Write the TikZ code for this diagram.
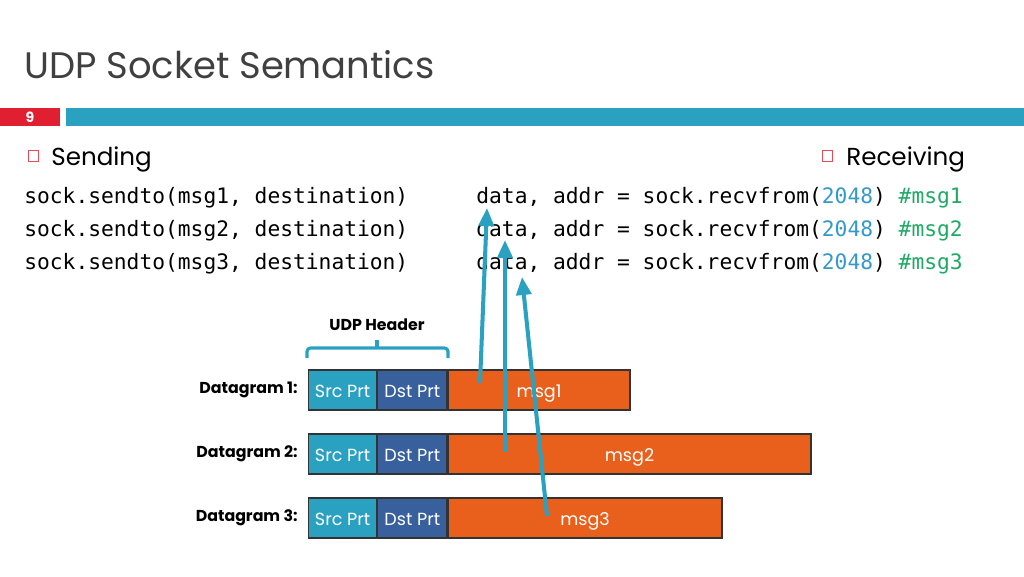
\documentclass[tikz,border=0pt]{standalone}
\usepackage{fontspec}
\setmainfont{Poppins}
\setmonofont{DejaVu Sans Mono}
\usepackage{xcolor}
\usetikzlibrary{positioning, arrows.meta}

\definecolor{slideteal}{HTML}{2BA1C2}
\definecolor{slidered}{HTML}{E02030}
\definecolor{portblue}{HTML}{38609C}
\definecolor{payorange}{HTML}{E8601C}
\definecolor{numblue}{HTML}{3399C8}
\definecolor{commentgreen}{HTML}{1EAA64}
\definecolor{titlegray}{HTML}{404040}

\newcommand{\recvline}[1]{data, addr = sock.recvfrom(\textcolor{numblue}{2048}) \textcolor{commentgreen}{\#msg#1}}

\begin{document}
\begin{tikzpicture}[x=0.02cm, y=-0.02cm,
    codeline/.style={anchor=base west, inner sep=0pt, font=\ttfamily\fontsize{12.1}{14}\selectfont},
    bullettext/.style={anchor=base west, inner sep=0pt, font=\fontsize{14}{17}\selectfont},
    bulletbox/.style={draw=slidered!80, line width=0.5pt, fill=white},
    dglabel/.style={anchor=east, inner sep=0pt, font=\bfseries\fontsize{9}{11}\selectfont},
    field/.style={draw=black!80, line width=0.7pt, minimum height=0.8cm, inner sep=0pt,
        text height=1.8ex, text depth=0.3ex,
        text=white, font=\fontsize{10}{12}\selectfont},
    srcbox/.style={field, fill=slideteal, minimum width=1.36cm},
    dstbox/.style={field, fill=portblue, minimum width=1.38cm},
    msgbox/.style={field, fill=payorange},
    arrow/.style={-{Triangle[width=0.3cm, length=0.36cm]}, line width=2.3pt, slideteal}]

    \useasboundingbox (0,0) rectangle (1024,576);

    % Header
    \node[anchor=base west, inner sep=0pt, text=titlegray, font=\fontsize{21}{25}\selectfont] (title) at (24,78) {UDP Socket Semantics};
    \fill[slidered] (0,108) rectangle (60,126);
    \fill[slideteal] (66,108) rectangle (1024,126);
    \node[text=white, font=\bfseries\fontsize{8}{10}\selectfont] (pagenum) at (30,117) {9};

    % Bullets
    \draw[bulletbox] (28,150) rectangle (38,161);
    \node[bullettext] (sending) at (51,165) {Sending};
    \draw[bulletbox] (822,150) rectangle (832,161);
    \node[bullettext] (receiving) at (846,165) {Receiving};

    % Code
    \foreach \i/\y in {1/203, 2/236, 3/269} {
        \node[codeline] (send\i) at (24,\y) {sock.sendto(msg\i, destination)};
        \node[codeline] (recv\i) at (476,\y) {\recvline{\i}};
    }

    % Header brace
    \node[font=\bfseries\fontsize{9}{11}\selectfont] (hdr) at (377,325) {UDP Header};
    \draw[slideteal, line width=1.8pt, rounded corners=2pt]
        (307,358) -- (307,348) -- (448,348) -- (448,358);
    \draw[slideteal, line width=1.8pt] (377,349) -- (377,340);

    % Datagrams
    \foreach \i/\y/\w in {1/390/3.64cm, 2/454/7.26cm, 3/518/5.48cm} {
        \node[dglabel] (dgl\i) at (298,\y) {Datagram \i:};
        \node[srcbox, anchor=west] (src\i) at (308,\y) {Src Prt};
        \node[dstbox, right=0pt of src\i] (dst\i) {Dst Prt};
        \node[msgbox, minimum width=\w, right=0pt of dst\i] (msg\i) {msg\i};
    }

    % Arrows
    \coordinate (from1) at (480,383);
    \coordinate (to1) at (487,208);
    \coordinate (from2) at (505,452);
    \coordinate (to2) at (505,240);
    \coordinate (from3) at (547,516);
    \coordinate (to3) at (522,277);
    \draw[arrow] (from1) -- (to1);
    \draw[arrow] (from2) -- (to2);
    \draw[arrow] (from3) -- (to3);

\end{tikzpicture}
\end{document}
